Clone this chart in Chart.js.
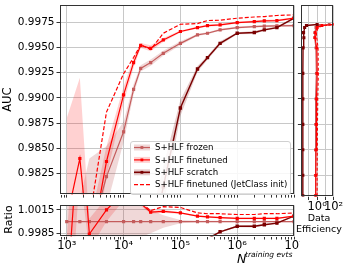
<!DOCTYPE html>
<html>
<head>
<meta charset="utf-8">
<script src="https://cdn.jsdelivr.net/npm/chart.js@4.4.1/dist/chart.umd.min.js"></script>
<style>
  html, body { margin: 0; padding: 0; background: #fff; }
  #wrap { position: relative; width: 349px; height: 270px; overflow: hidden; font-family: "DejaVu Sans", sans-serif; }
  canvas { position: absolute; }
  .lbl { position: absolute; color: #000; white-space: nowrap; line-height: 1; }
</style>
</head>
<body>
<div id="wrap">
  <canvas id="mainChart" width="300" height="200" style="left:0;top:0"></canvas>
  <canvas id="ratioChart" width="300" height="70" style="left:0;top:200px"></canvas>
  <canvas id="effChart" width="53" height="215" style="left:296px;top:0"></canvas>

  <div class="lbl" style="left:-4px;top:94px;font-size:11.5px;transform:rotate(-90deg);width:24px;text-align:center">AUC</div>
  <div class="lbl" style="left:-8px;top:214px;font-size:11px;transform:rotate(-90deg);width:32px;text-align:center">Ratio</div>
  <div class="lbl" style="left:237px;top:252.5px;font-size:12.5px;font-style:italic">N</div>
  <div class="lbl" style="left:245px;top:251px;font-size:7.5px;font-style:italic">training evts</div>
  <div class="lbl" style="left:299px;top:213px;font-size:9.5px;width:40px;text-align:center">Data</div>
  <div class="lbl" style="left:294px;top:224px;font-size:9.5px;width:50px;text-align:center">Efficiency</div>
</div>
<script>
// training set sizes
const N = [1000, 1700, 2500, 5000, 10000, 15000, 20000, 30000, 50000, 100000,
           200000, 300000, 500000, 1000000, 2000000, 3000000, 5000000, 10000000];

// AUC (mean) and spread per model
const frozenAuc    = [0.965, 0.970, 0.976, 0.9822, 0.98664, 0.99085, 0.99293, 0.9935, 0.99442, 0.99541,
                      0.99625, 0.99641, 0.99675, 0.99697, 0.99707, 0.99711, 0.99714, 0.99717];
const frozenStd    = [0.010, 0.010, 0.008, 0.003, 0.001, 0.0005, 0.0003, 0.0003, 0.00025, 0.0002,
                      0.00012, 0.0001, 0.0001, 0.0001, 0.0001, 0.0001, 0.0001, 0.0001];
const finetunedAuc = [0.978, 0.9840, 0.9745, 0.9837, 0.9903, 0.9935, 0.9952, 0.99492, 0.99575, 0.99658,
                      0.99697, 0.99717, 0.99724, 0.99747, 0.99757, 0.99764, 0.99767, 0.9979];
const finetunedStd = [0.010, 0.008, 0.003, 0.0015, 0.0008, 0.0005, 0.00025, 0.0003, 0.0002, 0.0001,
                      0.0001, 0.0001, 0.0001, 0.0001, 0.0001, 0.0001, 0.0001, 0.0001];
const scratchAuc   = [0.92, 0.93, 0.94, 0.95, 0.96, 0.965, 0.97, 0.975, 0.9812, 0.9890,
                      0.99287, 0.99399, 0.99541, 0.99641, 0.99648, 0.99675, 0.99697, 0.9979];
const scratchStd   = [0.005, 0.005, 0.005, 0.005, 0.004, 0.003, 0.003, 0.003, 0.002, 0.0008,
                      0.0003, 0.0002, 0.0002, 0.0001, 0.00015, 0.0001, 0.0001, 0.0001];
const jetAuc       = [null, null, 0.978, 0.9886, 0.9924, 0.9940, 0.99528, 0.9948, 0.99641, 0.9973,
                      0.99737, 0.99767, 0.9977, 0.9979, 0.99802, 0.99806, 0.99817, 0.99823];

// ratio to frozen
const frozenRatio       = [1, 1, 1, 1, 1, 1, 1, 1, 1, 1, 1, 1, 1, 1, 1, 1, 1, 1];
const frozenRatioStd    = [0.01, 0.01, 0.008, 0.005, 0.003, 0.0025, 0.002, 0.0015, 0.0008, 0.0002,
                           0.0001, 0.0001, 0.0001, 0.00008, 0.00008, 0.00008, 0.00008, 0.00008];
const finetunedRatio    = [0.990, 1.014, 0.9984, 1.0015, 1.0037, 1.0027, 1.0023, 1.0012, 1.0013, 1.0011,
                           1.0007, 1.0006, 1.0005, 1.0004, 1.0004, 1.0004, 1.0004, 1.0007];
const finetunedRatioStd = [0.008, 0.008, 0.002, 0.0015, 0.001, 0.0006, 0.0003, 0.0002, 0.0002, 0.0001,
                           0.0001, 0.0001, 0.0001, 0.0001, 0.0001, 0.0001, 0.0001, 0.0001];
const scratchRatio      = [0.95, 0.96, 0.963, 0.967, 0.973, 0.974, 0.977, 0.981, 0.9867, 0.9935,
                           0.9966, 0.9978, 0.9987, 0.9994, 0.9994, 0.9996, 0.9998, 1.0007];
const scratchRatioStd   = [0.005, 0.005, 0.005, 0.005, 0.004, 0.003, 0.003, 0.003, 0.002, 0.0008,
                           0.0003, 0.0002, 0.0001, 0.00012, 0.00015, 0.0001, 0.0001, 0.0001];
const jetRatio          = [null, null, 1.004, 1.0065, 1.0059, 1.0032, 1.0024, 1.0014, 1.0019, 1.0018,
                           1.0011, 1.0010, 1.0010, 1.0009, 1.0009, 1.0010, 1.0010, 1.0011];

// data efficiency side panel (x = efficiency, y = AUC level)
const effAuc       = [0.9805, 0.9825, 0.985, 0.9875, 0.990, 0.9925, 0.995, 0.996, 0.9965, 0.997, 0.9972, 0.9973];
const effFrozen    = [0.6, 0.6, 0.62, 0.65, 0.7, 0.8, 0.7, 0.5, 0.5, 0.7, 2, 30];
const effFinetuned = [0.7, 0.7, 0.75, 0.8, 0.85, 1.0, 0.9, 0.55, 0.6, 1.0, 4, 100];
const effJet       = [1.0, 1.0, 1.05, 1.1, 1.2, 1.4, 1.3, 0.9, 0.8, 1.4, 6, 100];
const effScratch   = [0.018, 0.018, 0.018, 0.018, 0.018, 0.018, 0.019, 0.024, 0.022, 0.03, 0.05, 1.0];

// ticks
const xTicks = [1e3, 1e4, 1e5, 1e6, 1e7];
const xTickLabels = ['10³', '10⁴', '10⁵', '10⁶', '10⁷'];
const yTicks = [0.9825, 0.985, 0.9875, 0.99, 0.9925, 0.995, 0.9975];
const ratioTicks = [0.9985, 1.0, 1.0015];
const effTicks = [0.1, 1, 10, 100];
const effTickLabels = ['', '10⁰', '', '10²'];

const labels = ['S+HLF frozen', 'S+HLF finetuned', 'S+HLF scratch', 'S+HLF finetuned (JetClass init)'];
const cFrozen = 'rgb(196,92,92)', cFine = '#ff0000', cScratch = '#7a0000', cJet = '#ff0000';
const bFrozen = 'rgba(170,40,40,0.18)', bFine = 'rgba(255,0,0,0.18)', bScratch = 'rgba(128,0,0,0.2)';
const gridColor = '#c8c8c8';
const tickFont = { family: 'DejaVu Sans', size: 10.5 };
const xTickFont = { family: 'DejaVu Sans', size: 11.5 };

// minor tick marks for the log axis
const xMinor = [];
for (let d = 100; d <= 1e6; d *= 10) for (let k = 2; k <= 9; k++) xMinor.push(d * k);
const xAll = xTicks.concat(xMinor.filter(v => v > 760)).sort((a, b) => a - b);

function pts(xs, ys) { return xs.map((x, i) => ({ x: x, y: ys[i] })); }
function edge(xs, ys, sd, s) { return xs.map((x, i) => ({ x: x, y: ys[i] == null ? null : ys[i] + s * sd[i] })); }

function bandSets(ys, sd, color) {
  return [
    { data: edge(N, ys, sd, 1), fill: '+1', backgroundColor: color, borderWidth: 0, pointRadius: 0, order: 10 },
    { data: edge(N, ys, sd, -1), fill: false, borderWidth: 0, pointRadius: 0, order: 10 }
  ];
}
function lineSet(ys, color, width, order, dash) {
  return { data: pts(N, ys), borderColor: color, backgroundColor: color, borderWidth: width,
           borderDash: dash || [], pointRadius: dash ? 0 : 1.4, pointStyle: 'rect',
           fill: false, order: order, spanGaps: false };
}

const frame = {
  id: 'frame',
  afterDraw(chart) {
    const a = chart.chartArea, ctx = chart.ctx;
    ctx.save();
    ctx.strokeStyle = '#333';
    ctx.lineWidth = 1;
    ctx.strokeRect(Math.round(a.left) + 0.5, Math.round(a.top) + 0.5,
                   Math.round(a.right - a.left) - 1, Math.round(a.bottom - a.top) - 1);
    ctx.restore();
  }
};

const legendBox = {
  id: 'legendBox',
  afterDraw(chart) {
    const ctx = chart.ctx;
    ctx.save();
    ctx.fillStyle = 'rgba(255,255,255,0.85)';
    ctx.strokeStyle = '#d0d0d0';
    ctx.lineWidth = 1;
    ctx.beginPath();
    ctx.roundRect(130.5, 141.5, 160, 53, 2.5);
    ctx.fill();
    ctx.stroke();
    const styles = [
      { c: cFrozen, b: bFrozen, w: 1.2, d: [] },
      { c: cFine, b: bFine, w: 1.2, d: [] },
      { c: cScratch, b: bScratch, w: 1.6, d: [] },
      { c: cJet, b: null, w: 1.2, d: [4, 2] }
    ];
    ctx.font = '8.6px "DejaVu Sans"';
    ctx.textBaseline = 'middle';
    labels.forEach((t, i) => {
      const y = 147.5 + i * 12.4, s = styles[i];
      if (s.b) { ctx.fillStyle = s.b; ctx.fillRect(134, y - 3, 16, 6); }
      ctx.strokeStyle = s.c; ctx.lineWidth = s.w; ctx.setLineDash(s.d);
      ctx.beginPath(); ctx.moveTo(134, y); ctx.lineTo(150, y); ctx.stroke();
      ctx.setLineDash([]);
      if (!s.d.length) { ctx.fillStyle = s.c; ctx.fillRect(140.5, y - 1.4, 2.8, 2.8); }
      ctx.fillStyle = '#000';
      ctx.fillText(t, 155, y + 0.5);
    });
    ctx.restore();
  }
};

function xScale(showLabels, extra) {
  return Object.assign({
    type: 'logarithmic', min: 760, max: 1e7,
    afterBuildTicks: s => { s.ticks = xAll.map(v => ({ value: v })); },
    ticks: { display: showLabels, autoSkip: false, maxRotation: 0, padding: 0, color: '#000', font: xTickFont,
             callback: v => { const k = xTicks.indexOf(v); return k >= 0 ? xTickLabels[k] : ''; } },
    grid: { color: c => (c.tick && xTicks.includes(c.tick.value)) ? gridColor : 'rgba(0,0,0,0)',
            tickColor: '#333', tickLength: 3 },
    border: { display: false }
  }, extra);
}

const common = {
  responsive: false, animation: false, events: [],
  plugins: { legend: { display: false }, tooltip: { enabled: false } }
};

// main AUC panel
new Chart(document.getElementById('mainChart'), {
  type: 'line',
  data: {
    datasets: [].concat(
      bandSets(frozenAuc, frozenStd, bFrozen),
      bandSets(finetunedAuc, finetunedStd, bFine),
      bandSets(scratchAuc, scratchStd, bScratch),
      [lineSet(frozenAuc, cFrozen, 1.2, 4),
       lineSet(scratchAuc, cScratch, 1.4, 3),
       lineSet(finetunedAuc, cFine, 1.2, 2),
       lineSet(jetAuc, cJet, 1.2, 1, [4, 2])]
    )
  },
  options: Object.assign({}, common, {
    layout: { padding: { top: 4, right: 6, bottom: 3.5, left: 0 } },
    scales: {
      x: xScale(false, { afterFit: s => { s.height = 0; s.paddingLeft = 0; s.paddingRight = 0; } }),
      y: {
        type: 'linear', min: 0.98042, max: 0.99917,
        afterBuildTicks: s => { s.ticks = yTicks.map(v => ({ value: v })); },
        afterFit: s => { s.width = 60; s.paddingTop = 0; s.paddingBottom = 0; },
        ticks: { color: '#000', font: tickFont, padding: 2, callback: v => v.toFixed(4) },
        grid: { color: gridColor, tickColor: '#333', tickLength: 3.5 },
        border: { display: false }
      }
    }
  }),
  plugins: [frame, legendBox]
});

// ratio panel
new Chart(document.getElementById('ratioChart'), {
  type: 'line',
  data: {
    datasets: [].concat(
      bandSets(frozenRatio, frozenRatioStd, bFrozen),
      bandSets(finetunedRatio, finetunedRatioStd, bFine),
      bandSets(scratchRatio, scratchRatioStd, bScratch),
      [lineSet(frozenRatio, cFrozen, 1.2, 4),
       lineSet(scratchRatio, cScratch, 1.4, 3),
       lineSet(finetunedRatio, cFine, 1.2, 2),
       lineSet(jetRatio, cJet, 1.2, 1, [4, 2])]
    )
  },
  options: Object.assign({}, common, {
    layout: { padding: { top: 3, right: 6, bottom: 0, left: 0 } },
    scales: {
      x: xScale(true, { afterFit: s => { s.height = 33.5; s.paddingLeft = 0; s.paddingRight = 0; } }),
      y: {
        type: 'linear', min: 0.99810, max: 1.00206,
        afterBuildTicks: s => { s.ticks = ratioTicks.map(v => ({ value: v })); },
        afterFit: s => { s.width = 60; s.paddingTop = 0; s.paddingBottom = 0; },
        ticks: { color: '#000', font: tickFont, padding: 2, callback: v => v.toFixed(4) },
        grid: { color: gridColor, tickColor: '#333', tickLength: 3.5 },
        border: { display: false }
      }
    }
  }),
  plugins: [frame]
});

// data efficiency panel
function effSet(xs, color, width, dash, order) {
  return { data: xs.map((x, i) => ({ x: x, y: effAuc[i] })), borderColor: color, backgroundColor: color,
           borderWidth: width, borderDash: dash || [], pointRadius: dash ? 0 : 1.2, pointStyle: 'rect',
           fill: false, order: order };
}
new Chart(document.getElementById('effChart'), {
  type: 'line',
  data: {
    datasets: [
      effSet(effFrozen, cFrozen, 1.1, null, 4),
      effSet(effScratch, cScratch, 1.4, null, 3),
      effSet(effFinetuned, cFine, 1.1, null, 2),
      effSet(effJet, cJet, 1.1, [3, 2], 1)
    ]
  },
  options: Object.assign({}, common, {
    layout: { padding: { top: 4, right: 15.5, bottom: 0, left: 0 } },
    scales: {
      x: {
        type: 'logarithmic', min: 0.012, max: 100,
        afterBuildTicks: s => { s.ticks = effTicks.map(v => ({ value: v })); },
        afterFit: s => { s.height = 18.5; s.paddingLeft = 0; s.paddingRight = 0; },
        ticks: { autoSkip: false, maxRotation: 0, padding: 0, color: '#000', font: xTickFont,
                 callback: (v, i) => effTickLabels[i] },
        grid: { color: gridColor, tickColor: '#333', tickLength: 3.5 },
        border: { display: false }
      },
      y: {
        type: 'linear', min: 0.98042, max: 0.99917,
        afterBuildTicks: s => { s.ticks = yTicks.map(v => ({ value: v })); },
        afterFit: s => { s.width = 4.5; s.paddingTop = 0; s.paddingBottom = 0; },
        ticks: { display: false },
        grid: { color: gridColor, tickColor: '#333', tickLength: 3.5 },
        border: { display: false }
      }
    }
  }),
  plugins: [frame]
});
</script>
</body>
</html>
